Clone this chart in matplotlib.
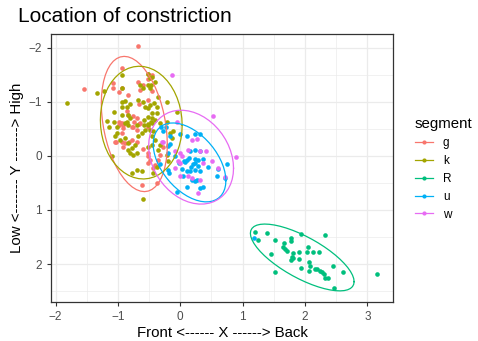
import numpy as np
import matplotlib
matplotlib.use("Agg")
import matplotlib.pyplot as plt
from matplotlib.lines import Line2D

plt.rcParams['font.family'] = ['Liberation Sans', 'DejaVu Sans']

segments = ["g", "k", "R", "u", "w"]
colors = {"g": "#F8766D", "k": "#A3A500", "R": "#00BF7D", "u": "#00B0F6", "w": "#E76BF3"}

g_x = [-0.68, -1.55, -0.94, -1.08, -1.08, -0.94, -0.98, -0.83, -0.67, -0.60, -0.52, -0.45, -0.51,
       -0.64, -0.45, -0.66, -0.52, -0.85, -0.83, -0.76, -0.69, -0.74, -0.66, -0.77, -0.99, -0.99,
       -0.92, -0.64, -0.51, -0.97, -0.93, -0.91, -0.75, -0.69, -0.93, -1.04, -0.93, -0.88, -0.91,
       -0.77, -0.69, -0.59, -0.51, -0.52, -0.49, -0.51, -0.32, -0.35, -0.40, -0.43, -0.61, -0.37,
       -0.27, -0.82, -1.03]
g_y = [-2.03, -1.24, -1.62, -1.34, -1.25, -1.26, -1.17, -1.13, -1.37, -1.31, -1.42, -1.49, -1.51,
       -1.22, -1.20, -0.95, -1.03, -0.83, -0.76, -0.73, -0.70, -0.62, -0.58, -0.54, -0.62, -0.56,
       -0.57, -0.61, -0.54, -0.60, -0.60, -0.51, -0.54, -0.48, -0.42, -0.26, -0.26, -0.23, -0.17,
       -0.30, -0.26, -0.12, -0.05, 0.01, 0.07, 0.13, -0.02, 0.07, 0.17, 0.22, 0.54, 0.50,
       -0.17, -0.26, -0.26]

k_x = [-1.82, -1.33, -1.23, -0.93, -0.93, -0.51, -0.49, -0.45, -0.64, -0.60, -0.52, -0.49, -0.47,
       -0.40, -0.35, -0.67, -0.59, -0.93, -0.88, -0.94, -0.86, -0.80, -0.48, -0.42, -0.37, -0.56,
       -0.52, -0.21, -1.06, -0.93, -0.83, -0.80, -0.45, -0.37, -0.52, -0.45, -0.47, -0.40, -0.58,
       -0.58, -0.05, -1.17, -1.07, -1.15, -0.86, -0.83, -0.69, -0.51, -0.32, -0.22, -1.01, -0.88,
       -1.01, -1.04, -0.96, -1.09, -0.88, -0.83, -0.72, -0.77, -0.83, -0.67, -0.61, -0.56, -0.51,
       -0.45, -0.49, -0.43, -0.45, -0.40, -0.80, -0.75, -0.69, -0.51, -0.45, -0.37, -0.16, -0.11,
       -0.13, -0.77, -0.69, -0.61, -0.43, -0.59, -0.32, -0.35, -0.21, -0.20]
k_y = [-0.98, -1.16, -1.19, -1.49, -1.25, -1.51, -1.44, -1.46, -1.31, -1.25, -1.31, -1.26, -1.31,
       -1.37, -1.09, -1.03, -1.00, -1.00, -1.01, -0.91, -0.91, -0.95, -0.94, -0.97, -0.91, -0.91,
       -0.88, -1.00, -0.81, -0.76, -0.76, -0.70, -0.79, -0.79, -0.71, -0.70, -0.62, -0.66, -0.66,
       -0.57, -0.81, -0.65, -0.62, -0.54, -0.62, -0.57, -0.56, -0.58, -0.60, -0.62, -0.54, -0.60,
       -0.42, -0.36, -0.30, 0.00, -0.33, -0.23, -0.20, -0.14, -0.11, -0.37, -0.42, -0.48, -0.57,
       -0.60, -0.48, -0.45, -0.36, -0.30, -0.05, -0.02, -0.05, -0.17, -0.20, 0.20, -0.42, -0.45,
       -0.33, 0.32, 0.26, 0.29, 0.32, 0.79, -0.20, -0.11, -0.02, 0.10]

R_x = [1.20, 1.25, 1.39, 1.52, 1.46, 1.52, 1.66, 1.64, 1.68, 1.71, 1.78, 1.78, 1.81, 1.79, 1.81,
       1.78, 1.91, 1.93, 1.91, 1.93, 2.05, 2.04, 2.13, 2.07, 2.08, 2.07, 2.23, 2.32, 2.16, 2.20,
       2.24, 2.28, 2.30, 2.32, 2.37, 2.45, 2.61, 2.46, 3.16]
R_y = [1.41, 1.55, 1.43, 1.55, 1.81, 2.15, 1.61, 1.69, 1.72, 1.75, 1.52, 1.58, 1.80, 1.86, 1.89,
       1.92, 1.77, 1.44, 1.91, 2.08, 1.69, 1.78, 1.77, 1.96, 2.04, 2.13, 1.77, 1.46, 2.09, 2.09,
       2.12, 2.15, 2.18, 2.26, 2.26, 2.04, 2.15, 2.45, 2.18]

u_x = [-0.31, -0.23, -0.27, 0.00, 0.11, 0.24, 0.32, -0.19, -0.19, -0.08, 0.16, 0.24, 0.32, 0.11,
       0.08, 0.23, 0.24, 0.29, 0.03, 0.11, 0.16, 0.24, 0.32, -0.20, -0.18, 0.05, 0.19, 0.24, 0.27,
       0.37, 0.32, 0.11, -0.06, 0.75, 0.60, 0.59, 0.72, -0.32, -0.17, -0.16, 1.18,
       0.14, 0.20, 0.06, 0.28, 0.17, 0.36, -0.02, 0.45]
u_y = [-0.53, -0.54, -0.45, -0.41, -0.36, -0.41, -0.41, -0.18, -0.05, 0.01, -0.08, -0.11, -0.08,
       0.07, 0.12, 0.06, 0.13, 0.07, 0.25, 0.29, 0.28, 0.26, 0.29, 0.26, 0.32, 0.38, 0.44, 0.47,
       0.44, 0.57, 0.60, 0.57, 0.66, 0.15, 0.25, 0.37, 0.41, 0.15, -0.37, -0.22, 1.52,
       0.04, 0.16, 0.10, 0.19, 0.21, 0.05, 0.14, 0.20]

w_x = [0.52, -0.30, -0.27, -0.09, -0.01, 0.03, 0.12, 0.32, 0.41, 0.27, 0.19, -0.03, 0.00, -0.08,
       0.00, 0.13, 0.19, 0.32, 0.29, 0.37, 0.51, 0.60, 0.89, 0.72, -0.13, -0.05]
w_y = [-0.74, -0.26, -0.26, -0.08, -0.06, 0.01, -0.11, -0.08, -0.08, -0.31, -0.30, 0.10, 0.13, 0.23,
       0.38, 0.38, 0.41, 0.44, 0.69, 0.13, 0.10, 0.23, 0.02, 0.40, -1.49, -0.63]

data = {"g": (g_x, g_y), "k": (k_x, k_y), "R": (R_x, R_y), "u": (u_x, u_y), "w": (w_x, w_y)}


def cov_trob(X, nu=5, maxit=25, tol=0.01):
    n, p = X.shape
    loc = X.mean(axis=0)
    w = np.ones(n)
    for _ in range(maxit):
        w0 = w
        Xc = X - loc
        _, d, vt = np.linalg.svd(np.sqrt(w / w.sum())[:, None] * Xc, full_matrices=False)
        wX = Xc @ vt.T @ np.diag(1.0 / d)
        Q = (wX ** 2).sum(axis=1)
        w = (nu + p) / (nu + Q)
        loc = (w[:, None] * X).sum(axis=0) / w.sum()
        if np.all(np.abs(w - w0) < tol):
            break
    Xc = X - loc
    cov = (np.sqrt(w)[:, None] * Xc).T @ (np.sqrt(w)[:, None] * Xc) / n
    return loc, cov


def ellipse(xs, ys, level=0.95, segs=51):
    X = np.column_stack([xs, ys])
    n = len(xs)
    loc, cov = cov_trob(X)
    dfd = n - 1
    qf = (dfd / 2.0) * ((1 - level) ** (-2.0 / dfd) - 1)
    radius = np.sqrt(2 * qf)
    chol = np.linalg.cholesky(cov).T
    ang = np.linspace(0, 2 * np.pi, segs)
    circ = np.column_stack([np.cos(ang), np.sin(ang)])
    e = loc + radius * (circ @ chol)
    return e[:, 0], e[:, 1]


fig = plt.figure(figsize=(4.78, 3.41), dpi=100)
ax = fig.add_axes([0.107, 0.1144, 0.715, 0.786])

for s in segments:
    xs, ys = data[s]
    ax.scatter(xs, ys, s=11, color=colors[s], linewidths=0, zorder=3)
    ex, ey = ellipse(np.array(xs), np.array(ys))
    ax.plot(ex, ey, color=colors[s], lw=0.9, zorder=4)

ax.set_xlim(-2.07, 3.41)
ax.set_ylim(2.70, -2.25)
ax.set_xticks([-2, -1, 0, 1, 2, 3])
ax.set_yticks([-2, -1, 0, 1, 2])
ax.set_xticks([-1.5, -0.5, 0.5, 1.5, 2.5], minor=True)
ax.set_yticks([-1.5, -0.5, 0.5, 1.5, 2.5], minor=True)
ax.grid(True, which='major', color='#EBEBEB', lw=0.9)
ax.grid(True, which='minor', color='#EBEBEB', lw=0.5)
ax.set_axisbelow(True)
for sp in ax.spines.values():
    sp.set_color('#333333')
    sp.set_linewidth(0.9)
ax.tick_params(which='major', length=3, color='#333333', labelsize=8.5, labelcolor='#4D4D4D', width=0.8)
ax.tick_params(which='minor', length=0)

ax.set_xlabel("Front <------ X ------> Back", fontsize=10.8, labelpad=2)
ax.set_ylabel("Low <------- Y -------> High", fontsize=10.8, labelpad=3)
fig.text(0.038, 0.935, "Location of constriction", fontsize=15, ha='left', va='baseline')

handles = [Line2D([0], [0], color=colors[s], lw=0.9, marker='o', markersize=3, markeredgewidth=0)
           for s in segments]
leg = fig.legend(handles, segments, title="segment", loc='center left',
                 bbox_to_anchor=(0.845, 0.505), frameon=False, fontsize=8.5,
                 title_fontsize=10.8, handlelength=1.6, handletextpad=0.8, labelspacing=0.5)
leg._legend_box.align = "left"

fig.savefig("out.png", dpi=100)
